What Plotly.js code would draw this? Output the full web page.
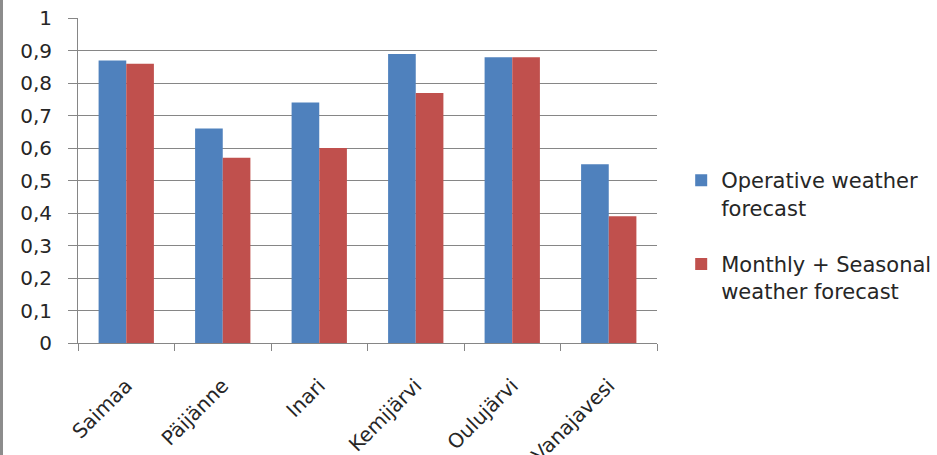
<!DOCTYPE html>
<html>
<head>
<meta charset="utf-8">
<script src="https://cdn.plot.ly/plotly-3.0.1.min.js"></script>
<style>
  html, body { margin: 0; padding: 0; background: #ffffff; overflow: hidden; }
  #chart { position: absolute; left: 0; top: 0; width: 937px; height: 455px; }
  #border { position: absolute; left: 0; top: 0; width: 3px; height: 455px; background: #8c8c8c; z-index: 5; }
</style>
</head>
<body>
<div id="chart"></div>
<div id="border"></div>
<script>
const lakes = ["Saimaa", "Päijänne", "Inari", "Kemijärvi", "Oulujärvi", "Vanajavesi"];
const operative = [0.87, 0.66, 0.74, 0.89, 0.88, 0.55];
const monthlySeasonal = [0.86, 0.57, 0.60, 0.77, 0.88, 0.39];
const seriesNames = ["Operative weather<br>forecast", "Monthly + Seasonal<br>weather forecast"];
const yTicks = [0, 0.1, 0.2, 0.3, 0.4, 0.5, 0.6, 0.7, 0.8, 0.9, 1];

const fontFam = "'DejaVu Sans', sans-serif";
const textColor = "#262626";
const data = [
  { type: "bar", x: lakes, y: operative, name: seriesNames[0], legendgroup: "a", marker: { color: "#4F81BD" } },
  { type: "bar", x: lakes, y: monthlySeasonal, name: seriesNames[1], legendgroup: "b", marker: { color: "#C0504D" } }
];

const layout = {
  width: 937, height: 455,
  margin: { l: 78, r: 280, t: 18, b: 112, pad: 0, autoexpand: false },
  paper_bgcolor: "rgba(0,0,0,0)",
  plot_bgcolor: "#ffffff",
  separators: ", ",
  barmode: "group",
  bargap: 0.427,
  bargroupgap: 0,
  font: { family: fontFam, size: 20, color: textColor },
  showlegend: true,
  legend: {
    xref: "container", yref: "container",
    x: 0.727, xanchor: "left", y: 0.481, yanchor: "middle",
    font: { family: fontFam, size: 21, color: textColor },
    tracegroupgap: 26, itemwidth: 30, valign: "top",
    bgcolor: "rgba(0,0,0,0)"
  },
  xaxis: {
    type: "category",
    showline: true, linecolor: "#868686", linewidth: 1,
    ticks: "outside", tickson: "boundaries", ticklen: 7, tickcolor: "#868686",
    tickangle: -45,
    ticklabelstandoff: 22,
    tickfont: { family: fontFam, size: 20, color: textColor },
    showgrid: false
  },
  yaxis: {
    range: [0, 1.0005],
    tickvals: yTicks,
    showline: true, linecolor: "#868686", linewidth: 1,
    ticks: "outside", ticklen: 9, tickcolor: "#868686",
    showgrid: true, gridcolor: "#868686", gridwidth: 1,
    zeroline: false,
    ticklabelstandoff: 12,
    tickfont: { family: fontFam, size: 20, color: textColor }
  }
};

Plotly.newPlot("chart", data, layout, { displayModeBar: false, staticPlot: true });
</script>
</body>
</html>
